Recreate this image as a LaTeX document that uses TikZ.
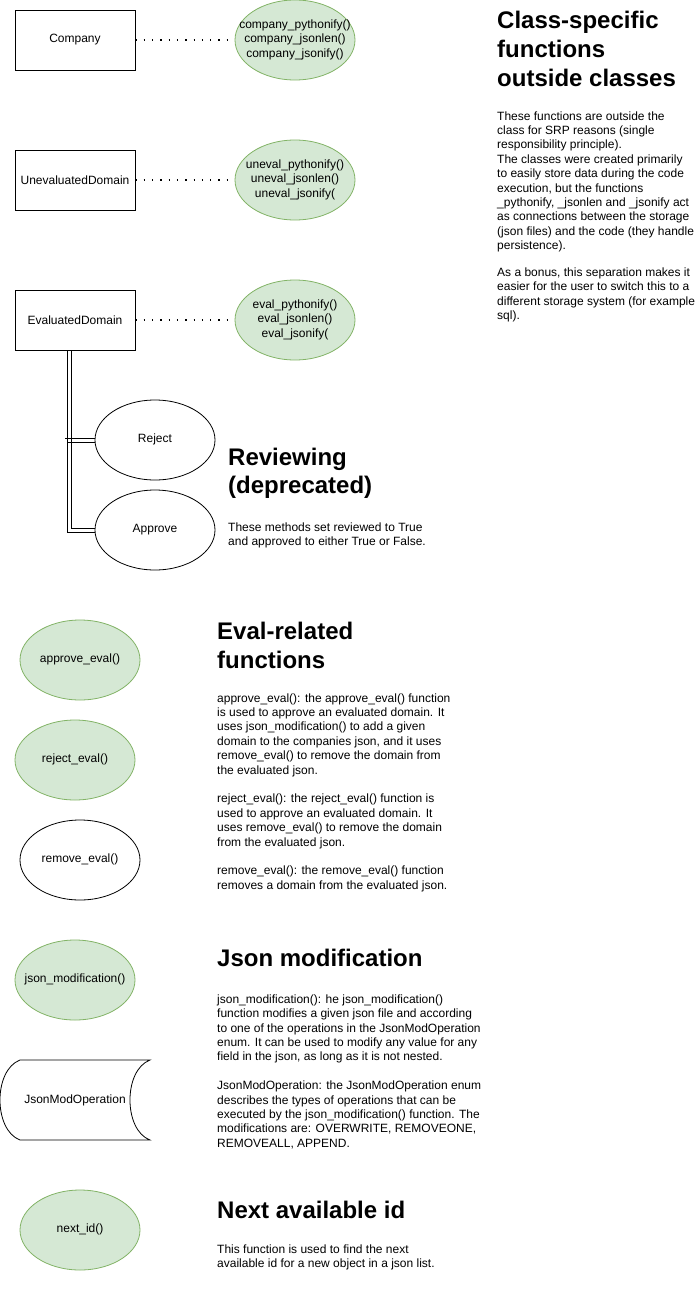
\documentclass[tikz,border=0pt]{standalone}
\usepackage{fontspec}
\setmainfont{Liberation Sans}
\usetikzlibrary{shapes.geometric}
\definecolor{gfill}{HTML}{D5E8D4}
\definecolor{gline}{HTML}{82B366}
\newcommand{\ctrtext}[1]{\makebox[0pt]{\begin{tabular}{@{}c@{}}#1\end{tabular}}}
\begin{document}
\begin{tikzpicture}[x=1pt,y=-1pt,
  every node/.style={font=\fontsize{12}{14.4}\selectfont},
  cls/.style={draw, line width=0.8pt, rectangle, minimum width=120pt, minimum height=60pt, inner sep=0pt},
  fn/.style={draw=gline, fill=gfill, ellipse, minimum width=120pt, minimum height=80pt, inner sep=0pt, line width=0.8pt},
  plainfn/.style={draw, ellipse, minimum width=120pt, minimum height=80pt, inner sep=0pt, line width=0.8pt},
  heading/.style={anchor=base west, align=left, inner sep=0pt, font=\fontsize{24}{28.8}\selectfont\bfseries},
  body/.style={anchor=base west, align=left, inner sep=0pt, font=\fontsize{12}{14.4}\selectfont},
  dots/.style={line width=1.3pt, dash pattern=on 1.3pt off 7pt},
  conn/.style={line width=0.8pt, draw=black}
]
\path[use as bounding box] (0,0) rectangle (696,1314);

% classes and their functions
\node[cls] (company) at (75,40) {Company};
\node[fn] (cfun) at (295,40) {\ctrtext{company\_pythonify()\\company\_jsonlen()\\company\_jsonify()}};
\node[cls] (uneval) at (75,180) {UnevaluatedDomain};
\node[fn] (ufun) at (295,180) {\ctrtext{uneval\_pythonify()\\uneval\_jsonlen()\\uneval\_jsonify(}};
\node[cls] (evald) at (75,320) {EvaluatedDomain};
\node[fn] (efun) at (295,320) {\ctrtext{eval\_pythonify()\\eval\_jsonlen()\\eval\_jsonify(}};

\draw[dots] (company.east) -- (cfun.west);
\draw[dots] (uneval.east) -- (ufun.west);
\draw[dots] (evald.east) -- (efun.west);

% reviewing (double-line connectors)
\node[plainfn] (reject) at (155,440) {\ctrtext{Reject}};
\node[plainfn] (approve) at (155,530) {\ctrtext{Approve}};
\coordinate (edout) at ([xshift=-6pt]evald.south);
\draw[conn] ([xshift=-2pt]edout) |- ([yshift=-2pt]approve.west);
\draw[conn] ([xshift=2pt]edout) |- ([yshift=2pt]approve.west);
\draw[conn] ([xshift=-2pt]edout) |- ([yshift=-2pt]reject.west);
\draw[conn] ([xshift=2pt]edout) |- ([yshift=2pt]reject.west);
\draw[conn] ([xshift=-4pt,yshift=2pt]edout |- reject.west) -- ([xshift=2pt,yshift=2pt]edout |- reject.west);

% right text block
\node[heading] (h1) at (497,86.1) {Class-specific\\functions\\outside classes};
\node[body] (t1) at (497,319.5) {These functions are outside the\\class for SRP reasons (single\\responsibility principle).\\The classes were created primarily\\to easily store data during the code\\execution, but the functions\\\_pythonify, \_jsonlen and \_jsonify act\\as connections between the storage\\(json files) and the code (they handle\\persistence).\\[12.3pt]As a bonus, this separation makes it\\easier for the user to switch this to a\\different storage system (for example\\sql).};

\node[heading] (h2) at (228,493.8) {Reviewing\\(deprecated)};
\node[body] (t2) at (228,545.9) {These methods set reviewed to True\\and approved to either True or False.};

% eval-related
\node[fn] (appeval) at (80,660) {\ctrtext{approve\_eval()}};
\node[fn] (rejeval) at (75,760) {\ctrtext{reject\_eval()}};
\node[plainfn] (remeval) at (80,860) {\ctrtext{remove\_eval()}};
\node[heading] (h3) at (217,668.3) {Eval-related\\functions};
\node[body] (t3) at (217,889.2) {approve\_eval(): the approve\_eval() function\\is used to approve an evaluated domain. It\\uses json\_modification() to add a given\\domain to the companies json, and it uses\\remove\_eval() to remove the domain from\\the evaluated json.\\[14.4pt]reject\_eval(): the reject\_eval() function is\\used to approve an evaluated domain. It\\uses remove\_eval() to remove the domain\\from the evaluated json.\\[14.4pt]remove\_eval(): the remove\_eval() function\\removes a domain from the evaluated json.};

% json modification
\node[fn] (jsonmod) at (75,980) {\ctrtext{json\_modification()}};
\draw[line width=0.8pt] (20,1060) -- (150,1060) .. controls (123.3,1070) and (123.3,1130) .. (150,1140) -- (20,1140) .. controls (-6.7,1130) and (-6.7,1070) .. (20,1060) -- cycle;
\node (jmo) at (75,1100) {JsonModOperation};
\node[heading] (h4) at (217,966.5) {Json modification};
\node[body] (t4) at (217,1147.3) {json\_modification(): he json\_modification()\\function modifies a given json file and according\\to one of the operations in the JsonModOperation\\enum. It can be used to modify any value for any\\field in the json, as long as it is not nested.\\[14.4pt]JsonModOperation: the JsonModOperation enum\\describes the types of operations that can be\\executed by the json\_modification() function. The\\modifications are: OVERWRITE, REMOVEONE,\\REMOVEALL, APPEND.};

% next id
\node[fn] (nextid) at (80,1230) {\ctrtext{next\_id()}};
\node[heading] (h5) at (217,1218.3) {Next available id};
\node[body] (t5) at (217,1267.7) {This function is used to find the next\\available id for a new object in a json list.};
\end{tikzpicture}
\end{document}
